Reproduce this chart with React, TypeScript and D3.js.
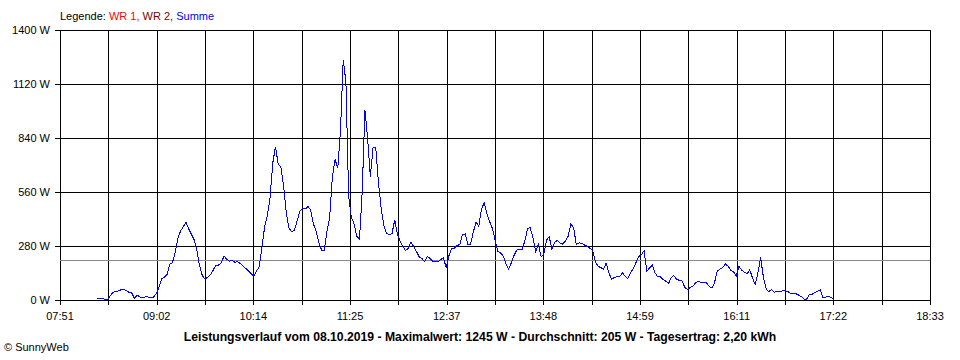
import React, { useEffect, useRef } from "react";
import * as d3 from "d3";

// y axis ticks (W) and x axis labels
const yTicks = [0, 280, 560, 840, 1120, 1400];
const xTickLabels = ["07:51", "09:02", "10:14", "11:25", "12:37", "13:48", "14:59", "16:11", "17:22", "18:33"];
const axisStart = "07:51";
const axisEnd = "18:33";

// Summe series: one value every 2 minutes from 08:18
const seriesStart = "08:18";
const stepMinutes = 2;
const summe = [
	5, 9, 9, 3, 3, 20, 40, 43, 47, 53,
	55, 48, 40, 36, 8, 26, 15, 14, 16, 16,
	10, 15, 34, 65, 110, 119, 133, 185, 194, 247,
	320, 358, 380, 403, 368, 341, 312, 256, 177, 127,
	109, 118, 131, 154, 181, 181, 192, 228, 212, 201,
	205, 196, 198, 190, 178, 164, 152, 138, 122, 150,
	172, 270, 380, 436, 530, 710, 795, 705, 691, 590,
	450, 372, 354, 362, 410, 462, 475, 472, 485, 465,
	395, 355, 298, 259, 256, 355, 430, 640, 728, 685,
	880, 1245, 1130, 536, 430, 395, 330, 315, 560, 985,
	840, 640, 790, 790, 610, 475, 385, 346, 337, 345,
	415, 343, 305, 278, 256, 268, 302, 276, 252, 224,
	216, 199, 226, 216, 201, 202, 200, 210, 220, 165,
	230, 268, 268, 282, 288, 338, 342, 290, 290, 352,
	405, 382, 470, 505, 448, 408, 372, 314, 252, 245,
	228, 190, 161, 192, 230, 259, 260, 263, 305, 370,
	375, 322, 252, 288, 225, 236, 310, 328, 262, 300,
	308, 294, 290, 306, 330, 395, 375, 287, 296, 294,
	285, 278, 268, 261, 200, 175, 168, 160, 190, 142,
	107, 117, 120, 122, 140, 125, 110, 140, 164, 193,
	225, 235, 255, 150, 165, 182, 142, 121, 120, 107,
	98, 85, 115, 127, 108, 102, 100, 66, 55, 65,
	70, 90, 98, 92, 90, 90, 70, 62, 90, 150,
	160, 168, 187, 175, 155, 146, 124, 175, 155, 144,
	136, 156, 115, 80, 140, 220, 121, 60, 42, 55,
	40, 46, 45, 47, 48, 44, 34, 33, 33, 26,
	18, 4, 4, 30, 30, 40, 45, 52, 14, 15,
	17, 15, 4,
];
const average = 205;

const legendLabels = ["WR 1", "WR 2", "Summe"];
const legendColors = ["#ff0000", "#800000", "#0000ff"];
const title =
	"Leistungsverlauf vom 08.10.2019 - Maximalwert: 1245 W - Durchschnitt: 205 W - Tagesertrag: 2,20 kWh";

const toMin = (s: string) => {
	const [h, m] = s.split(":").map(Number);
	return h * 60 + m;
};

const App = () => {
	const svgRef = useRef<SVGSVGElement>(null);

	useEffect(() => {
		document.body.style.margin = "0";
		const root = d3.select(svgRef.current);
		root.selectAll("*").remove();

		const margin = { top: 30, left: 60 };
		const width = 870;
		const height = 270;
		const font = "'Liberation Sans', Arial, sans-serif";

		const x = d3.scaleLinear().domain([toMin(axisStart), toMin(axisEnd)]).range([0, width]);
		const y = d3.scaleLinear().domain([0, 1400]).range([height, 0]);
		// 18 grid intervals, labels on every second one
		const grid = d3.scaleLinear().domain([0, 18]).range([0, width]);
		const snap = (v: number) => Math.round(v);

		const svg = root.append("g").attr("transform", `translate(${margin.left},${margin.top})`);

		// horizontal grid lines incl. tick marks on the left
		svg
			.selectAll(".hgrid")
			.data(yTicks)
			.enter()
			.append("line")
			.attr("x1", -5)
			.attr("x2", width)
			.attr("y1", (d) => snap(y(d)))
			.attr("y2", (d) => snap(y(d)))
			.attr("stroke", "#000")
			.attr("shape-rendering", "crispEdges");

		// vertical grid lines with tick marks below
		svg
			.selectAll(".vgrid")
			.data(d3.range(19))
			.enter()
			.append("line")
			.attr("x1", (d) => snap(grid(d)))
			.attr("x2", (d) => snap(grid(d)))
			.attr("y1", 0)
			.attr("y2", height + 5)
			.attr("stroke", "#000")
			.attr("shape-rendering", "crispEdges");

		// y labels
		svg
			.selectAll(".ylab")
			.data(yTicks)
			.enter()
			.append("text")
			.attr("x", -10)
			.attr("y", (d) => y(d) + 4)
			.attr("text-anchor", "end")
			.style("font-family", font)
			.style("font-size", "11px")
			.text((d) => `${d} W`);

		// x labels
		svg
			.selectAll(".xlab")
			.data(xTickLabels)
			.enter()
			.append("text")
			.attr("x", (d, i) => grid(i * 2))
			.attr("y", height + 20)
			.attr("text-anchor", "middle")
			.style("font-family", font)
			.style("font-size", "11px")
			.text((d) => d);

		// average line
		svg
			.append("line")
			.attr("x1", 0)
			.attr("x2", width)
			.attr("y1", snap(y(average)))
			.attr("y2", snap(y(average)))
			.attr("stroke", "#888")
			.attr("shape-rendering", "crispEdges");

		// Summe line, drawn aliased like the original bitmap
		const t0 = toMin(seriesStart);
		const line = d3
			.line<number>()
			.x((d, i) => x(t0 + i * stepMinutes))
			.y((d) => y(d));
		svg
			.append("path")
			.datum(summe)
			.attr("d", line)
			.attr("fill", "none")
			.attr("stroke", legendColors[2])
			.attr("stroke-width", 1)
			.attr("shape-rendering", "crispEdges");

		// legend
		const leg = root
			.append("text")
			.attr("x", 60)
			.attr("y", 20)
			.style("font-family", font)
			.style("font-size", "11px");
		leg.append("tspan").attr("fill", "#000").text("Legende: ");
		legendLabels.forEach((l, i) => {
			leg
				.append("tspan")
				.attr("fill", legendColors[i])
				.text(i < legendLabels.length - 1 ? `${l}, ` : l);
		});

		// title and footer
		root
			.append("text")
			.attr("x", 480)
			.attr("y", 341)
			.attr("text-anchor", "middle")
			.style("font-family", font)
			.style("font-size", "12.2px")
			.style("font-weight", "bold")
			.text(title);

		root
			.append("text")
			.attr("x", 4)
			.attr("y", 351)
			.style("font-family", font)
			.style("font-size", "11px")
			.text("© SunnyWeb");
	}, []);

	return <svg ref={svgRef} width={960} height={360} style={{ display: "block", background: "#fff" }}></svg>;
};

export default App;
